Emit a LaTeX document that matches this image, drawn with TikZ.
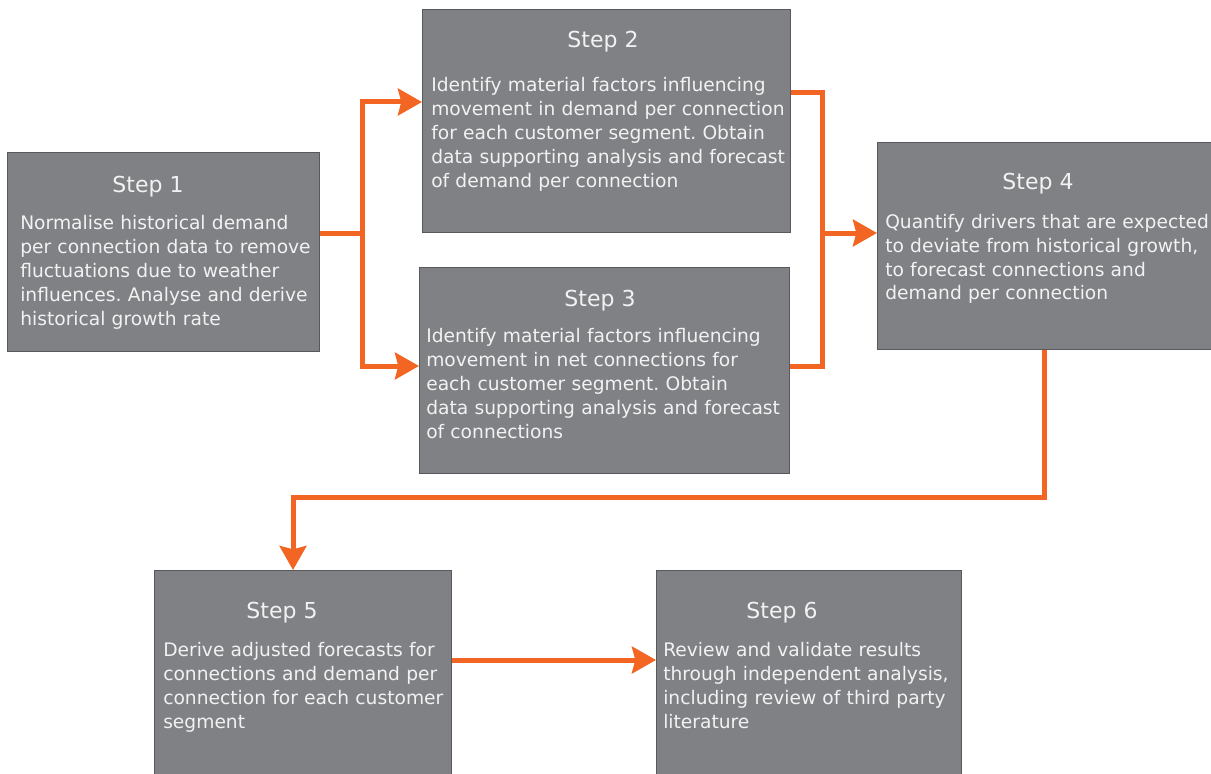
\documentclass[tikz,border=0pt]{standalone}
\usepackage{fontspec}
\setmainfont{DejaVu Sans}
\usepackage{tikz}
\usetikzlibrary{arrows.meta}
\frenchspacing

\definecolor{boxgray}{RGB}{128,129,133}
\definecolor{boxedge}{RGB}{88,89,92}
\definecolor{flowline}{RGB}{242,101,34}
\definecolor{boxtext}{RGB}{242,242,242}

\tikzset{
  stepbox/.style 2 args={draw=boxedge, line width=0.8pt, fill=boxgray, anchor=north west,
    inner sep=0pt, minimum width=#1*0.75pt, minimum height=#2*0.75pt},
  steptitle/.style={anchor=base, inner sep=0pt, text=boxtext,
    font=\fontsize{16.5}{20}\selectfont},
  stepbody/.style={anchor=base west, inner sep=0pt, text=boxtext, text width=270pt,
    align=left, font=\fontsize{14}{18}\selectfont},
  flow/.style={draw=flowline, line width=3.75pt},
  tip/.style={-{Stealth[length=18pt,width=20pt,inset=2.5pt]}}
}

\begin{document}
\begin{tikzpicture}[x=0.75pt, y=-0.75pt]
    \useasboundingbox (0,0) rectangle (1211,774);

    \node[stepbox={312}{199}] (s1) at (7,152) {};
    \node[stepbox={368}{223}] (s2) at (422,9) {};
    \node[stepbox={370}{206}] (s3) at (419,267) {};
    \node[stepbox={340}{207}] (s4) at (877,142) {};
    \node[stepbox={297}{206}] (s5) at (154,570) {};
    \node[stepbox={305}{206}] (s6) at (656,570) {};

    \node[steptitle] (t1) at (148,192) {Step 1};
    \node[stepbody] (b1) at (20,229) {Normalise historical demand\\
      per connection data to remove\\ fluctuations due to weather\\
      influences. Analyse and derive\\ historical growth rate};
    \node[steptitle] (t2) at (603,48) {Step 2};
    \node[stepbody] (b2) at (431,92) {Identify material factors influencing\\
      movement in demand per connection\\ for each customer segment. Obtain\\
      data supporting analysis and forecast\\ of demand per connection};
    \node[steptitle] (t3) at (600,306) {Step 3};
    \node[stepbody] (b3) at (426,342) {Identify material factors influencing\\
      movement in net connections for\\ each customer segment. Obtain\\
      data supporting analysis and forecast\\ of connections};
    \node[steptitle] (t4) at (1038,190) {Step 4};
    \node[stepbody] (b4) at (885,228) {Quantify drivers that are expected\\
      to deviate from historical growth,\\ to forecast connections and\\
      demand per connection};
    \node[steptitle] (t5) at (282,618) {Step 5};
    \node[stepbody] (b5) at (163,656) {Derive adjusted forecasts for\\
      connections and demand per\\ connection for each customer\\ segment};
    \node[steptitle] (t6) at (782,618) {Step 6};
    \node[stepbody] (b6) at (663,656) {Review and validate results\\
      through independent analysis,\\ including review of third party\\ literature};

    % flow between the steps
    \coordinate (fork) at (362,233);
    \coordinate (join) at (822,233);
    \coordinate (bend) at (293,497);
    \draw[flow] (s1.east |- fork) -- (fork);
    \draw[flow,tip] (fork) |- (s2.west |- 0,102);
    \draw[flow,tip] (fork) |- (s3.west |- 0,366);
    \draw[flow] (s2.east |- 0,93) -| (join);
    \draw[flow] (s3.east |- 0,366) -| (join);
    \draw[flow,tip] (join) -- (s4.west |- join);
    \draw[flow,tip] (s4.south -| 1044,0) |- (bend) -- (s5.north -| bend);
    \draw[flow,tip] (s5.east |- 0,660) -- (s6.west |- 0,660);
\end{tikzpicture}
\end{document}
